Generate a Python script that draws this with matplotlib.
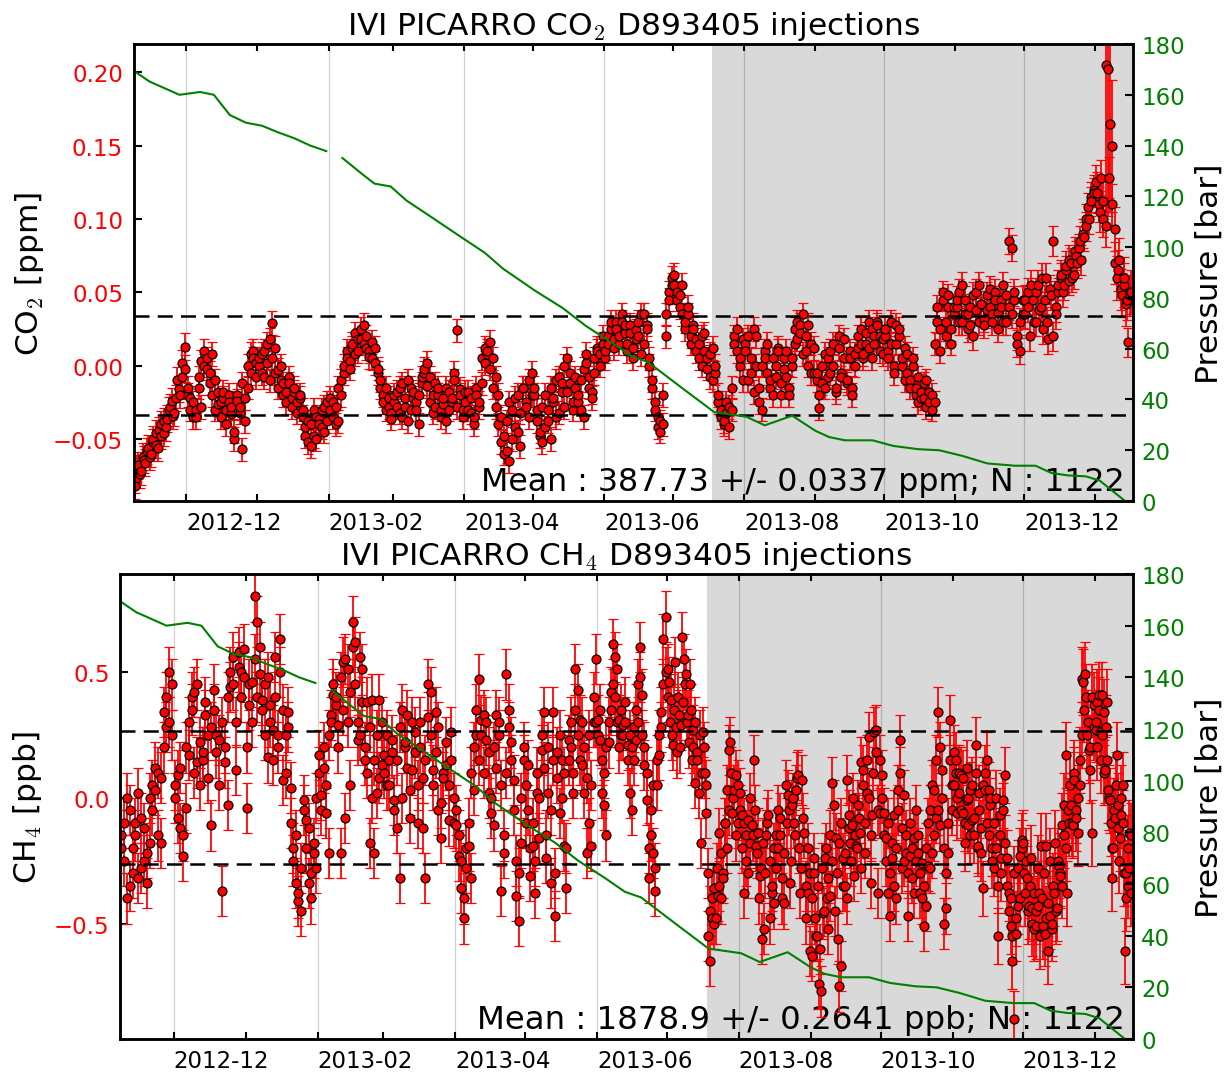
import numpy as np
import pandas as pd
import matplotlib
matplotlib.use('Agg')
import matplotlib.pyplot as plt
import matplotlib.dates as mdates
from matplotlib.ticker import MultipleLocator

plt.rcParams['font.family'] = ['DejaVu Sans']
plt.rcParams['mathtext.fontset'] = 'cm'

# month blocks: each row of values belongs to [edge_i, edge_i+1)
month_edges = ['2012-11-08', '2012-12-01', '2013-01-01', '2013-02-01', '2013-03-01',
               '2013-04-01', '2013-05-01', '2013-06-01', '2013-07-01', '2013-08-01',
               '2013-09-01', '2013-10-01', '2013-11-01', '2013-12-01', '2014-01-01',
               '2014-01-17']

# CO2 anomaly, ppm x 1000 (two interleaved injection sets per month)
co2_rows = [
    [-78, -70, -74, -62, -66, -56, -60, -50, -54, -44, -48, -38, -42, -30, -24, -32, -10, -20, 2, 13],
    [-20, -30, -25, -35, -15, -28, 0, 5, -5, 8, -10, -18, -25, -22, -30, -20, -28, -50, -24, -32, -57, -22, -15, -5, 5, -8],
    [5, -5, 10, 2, -10, 29, 12, -3, 0, -12, -18, -8, -22, -15, -25, -20, -30, -42, -38, -55, -48, -35, -40, -30, -45, -25],
    [-22, -35, -28, -38, -20, -5, 5, -2, 12, 8, 18, 25, 15, 20, 10, 5, 12, -2, -10, -20, -15, -28, -32],
    [-20, -28, -15, -35, -22, -10, -30, -18, -25, -40, -12, -5, 2, -8, -20, -28, -15, -30, -22, -38, -18, -25, -10, 24, -20, -30],
    [-25, -18, -32, -40, -20, -28, -12, 2, 10, 16, 5, -8, -20, -35, -48, -58, -65, -30, -22, -45, -55, -15, -28, -10, -20],
    [-15, -30, -45, -52, -20, -38, -50, -25, -10, -32, -18, 0, 5, -12, -25, -8, -20, -30, -2, 8, -15, -22, -5, 10, 0, 15],
    [5, 15, 25, 12, 30, 20, 35, 28, 10, 22, 5, 18, 30, 8, 35, 25, 0, -10, -25, -35, -45, -40, 20, 45, 60],
    [62, 50, 40, 55, 30, 35, 20, 28, 10, 15, 0, 22, 5, -8, 12, -5, -20, -30, -38, -25, -42, -30, 15, 25, 5, -10],
    [10, 20, -5, 25, 0, -15, -30, 5, 15, -10, -20, 0, 10, -12, 5, -8, -20, 0, 15, 30, 22, 35, 10, 28, -5, 12],
    [-10, -29, 0, -15, 5, -5, 15, -18, 20, -8, 5, -12, 10, -20, 0, 12, 25, 8, 15, 30, 5, 20, 28, 10, 18],
    [20, 5, 30, -5, 15, 25, 0, -10, 8, -15, 5, -20, -8, -22, -12, -28, -18, -30, -25, 30, 10, 50, 20, 40, 15, 35],
    [45, 30, 55, 35, 25, 40, 20, 50, 30, 42, 28, 38, 52, 35, 45, 25, 40, 55, 30, 85, 80, 45, 15, 10, 35],
    [35, 50, 20, 45, 30, 55, 40, 25, 60, 18, 48, 85, 35, 55, 60, 50, 65, 58, 70, 62, 75, 80, 72, 88, 95, 100, 112, 118],
    [125, 110, 128, 100, 205, 202, 165, 150, 93, 60, 72, 48, 55, 42, 16, 50],
]
co2_rows_b = [
    [-82, -68, -72, -64, -58, -62, -52, -46, -56, -40, -46, -36, -28, -34, -22, -16, -8, -2],
    [-15, -22, -35, -30, -8, 3, 10, -2, -12, -20, -30, -26, -35, -18, -40, -25, -33, -45, -20, -28, -12, -38, 0, 8, 10, 2],
    [0, 8, -8, 15, 18, 5, -5, -15, -10, -20, -25, -12, -28, -18, -32, -22, -35, -48, -52, -40, -30, -50, -36, -42, -28, -38],
    [-30, -25, -40, -15, -10, 0, 10, 3, 15, 22, 10, 18, 28, 12, 6, 16, 2, -5, -15, -25, -30, -22, -36],
    [-25, -18, -32, -12, -28, -38, -15, -22, -30, -20, -8, -2, -14, -25, -32, -12, -20, -35, -26, -15, -30, -22, -5, -28, -16, -35],
    [-18, -30, -22, -35, -15, -25, 5, 12, 8, -2, -15, -28, -40, -52, -60, -38, -25, -50, -42, -20, -32, -15, -25, -35, -5],
    [-20, -38, -48, -28, -42, -30, -15, -22, -35, -8, -12, -28, -18, -5, -30, -15, -25, -10, -35, 2, -8, -18, 5, 12, 8, 20],
    [10, 20, 30, 18, 25, 15, 30, 22, 15, 28, 12, 24, 20, 35, 15, 28, 5, -15, -30, -42, -38, -20, 35, 50, 55],
    [55, 45, 48, 35, 25, 40, 15, 25, 18, 5, 20, 10, -2, 8, -10, 0, -25, -35, -40, -32, -28, -15, 20, 10, 0, 18],
    [15, -10, 5, -18, 20, -25, 0, 10, -5, -15, 5, -8, 12, -20, -2, 10, -15, 5, 25, 18, 28, 8, 20, 0, 15, -5],
    [-5, -20, -12, 8, -8, 10, 0, -15, 12, -5, 18, -10, 5, -15, 8, 20, 15, 5, 22, 12, 25, 15, 30, 20, 8],
    [25, 10, 15, 0, 28, 20, 5, 12, -5, -10, 0, -15, -25, -18, -22, -10, -25, -20, 15, 40, 25, 45, 30, 48, 25, 40],
    [40, 50, 30, 45, 35, 28, 48, 38, 55, 42, 32, 48, 40, 30, 50, 36, 45, 30, 48, 40, 35, 50, 20, 30, 45],
    [45, 40, 55, 30, 50, 38, 60, 45, 30, 52, 20, 40, 50, 62, 55, 68, 72, 60, 78, 70, 85, 90, 100, 108, 115, 120],
    [118, 105, 112, 95, 128, 110, 70, 65, 52, 60, 45, 48],
]
co2_err_month = [9, 8, 8, 8, 8, 8, 8, 8, 8, 8, 8, 8, 9, 10, 14]
co2_err_jan14 = [12, 12, 12, 12, 100, 100, 60, 45, 15, 15, 15, 15, 15, 15, 10, 15]

# CH4 anomaly, ppb x 100
ch4_rows = [
    [-20, -10, -40, -5, -30, -15, -32, -8, -25, -34, -18, 5, 3, 10, -18, 34, 28, 50, 45],
    [0, 9, -12, -23, -4, 17, 40, 42, 14, 5, 18, 33, 25, -11, 43, 25, 23, -37, 14, -3, 44, 56, 11, 58, 50, 59],
    [-4, 37, 46, 80, 70, 49, 39, 45, 16, 37, 27, 56, 25, 63, 7, 25, 34, 4, -20, -34, -41, -45, -1, -9, -34, -40, -18, -28],
    [17, 1, 12, -6, -22, 33, 41, 37, 29, -22, 54, -8, 51, 5, 70, 62, 23, 56, 51, 15, 38, -18, 39, -22, 2, 39, 13],
    [17, 5, 15, 23, -1, -12, -32, 35, 20, 33, 3, 11, 26, -10, 30, 8, -32, 45, 42, 11, 34, -5, -16, 8, 13, -9, 26, 0],
    [-11, -23, -36, -48, -28, -19, -32, 3, 25, 47, 31, 33, 23, 2, -6, -11, 33, 30, -37, -22, 49, 35, 22, 7, -39, -49, -18, 15],
    [-10, 13, -31, -19, -38, 2, -16, 19, 34, -24, 2, -34, 34, -47, 18, -6, 15, -19, -36, 23, 30, 2, 51, 43, 31, 13, 2, -22, -10, -19, 30, 55],
    [31, 23, 2, -3, -15, 22, 42, 61, 56, 51, 31, 25, 29, 38, 21, 2, -5, 15, 23, 45, 60, 41, 13, -1, -32, -15, -22, -37, 5, 17, 34, 63, 72],
    [51, 46, 39, 21, 54, 18, 33, 29, 64, 55, 49, 33, 45, 15, 27, 6, 18, 2, -18, 26, 10, -6, -55, -65, -48, -36, -48, -39, -14, -40, -32, -10, 3, 19, 22, -6, 3, 9, -10],
    [2, -7, -38, -15, -9, -18, -11, 15, -19, -14, -31, -56, -52, -15, -7, -48, -35, -42, -15, -20, -8, -40, -42, 5, 1, -34, -3, -10, 3, 9, -38, 7, -14, -48, -38, -61],
    [-63, -24, -48, -55, -74, -77, -46, -24, -40, -52, -39, 6, -3, -16, -56, -75, -67, -24, -35, 7, -7, -18, -11, -31, -19, -3, -14, 14, 11, -22, 2, 24, -34, -7, 26, 27, -38, -6],
    [9, -6, -16, -38, -47, -24, -7, -40, 3, 23, -28, 1, -22, -47, -23, -32, -16, -5, -22, -38, -26, -51, -43, -27, -5, -22, 3, -8, 34, -11, 11, -50, -44, -22, 31, -5],
    [18, 10, -6, 2, 9, -6, -18, -1, -11, 3, -9, -15, 21, -19, 2, -22, -36, 3, 15, 3, -3, -20, -28, 0, -55, -7, -24, -1, 9, -24, -38, -51, -65, -88, -54, -43, -23, -17],
    [-18, -38, -32, -43, -24, -44, -52, -51, -43, -38, -19, -51, -54, -19, -61, -47, -52, -35, -18, -44, -27, -31, -11, -3, 17, -38, -10, -3, -11, 7, -8, -14, 5, 47, 46, 49, 25, 19, 11, -14, 37],
    [27, 38, 41, 26, 41, 34, 11, 38, 3, -1, -32, -20, -8, 17, -3, -16, -7, 5, -61, -30, -35, -14, -38],
]
ch4_rows_b = [
    [-15, -25, 0, -35, -20, -10, 2, -28, -12, -22, 0, -5, 12, -15, 8, 20, 40, 30, 25],
    [5, -8, 12, -15, 20, 30, 35, 10, 45, 22, 15, 38, 8, 28, 35, 18, 5, 30, 20, 40, 50, 45, 30, 52, 40, 48],
    [20, 45, 30, 55, 40, 60, 35, 25, 48, 30, 15, 40, 20, 50, 35, 10, 28, -10, -25, -15, -38, -28, -5, -20, -12, -30, -22, 0],
    [10, -5, 20, 5, 25, 30, 45, 40, 20, 48, 35, 55, 30, 42, 60, 45, 30, 25, 38, 20, 10, 28, 0, 15, 25, 8, 30],
    [10, 25, 5, 18, -5, 15, 28, 0, 22, 12, -8, 30, 18, 5, 20, -12, 15, 32, 25, 5, 18, 28, -2, 10, 22, 5, 15, -10],
    [-5, -15, -25, -40, -20, -10, 10, 20, 35, 15, 25, 10, 30, 18, 0, 20, 12, 25, 5, -15, 10, 28, 15, -5, -25, -30, 0, 20],
    [5, -5, -20, -10, -25, 10, 0, 25, 12, -15, 20, -5, 15, -30, 8, 25, 0, 10, -20, 15, 20, 10, 35, 25, 15, 30, 20, 8, 25, 5, 40, 30],
    [25, 35, 15, 10, 20, 30, 35, 45, 40, 30, 20, 35, 25, 30, 15, 25, 20, 28, 35, 30, 48, 25, 20, 10, -20, -5, 5, -28, 15, 25, 28, 45, 50],
    [40, 30, 25, 35, 28, 40, 20, 38, 45, 30, 22, 35, 20, 30, 15, 25, 10, 20, 5, -30, -45, -40, -50, -28, -35, -22, -30, -10, -20, -5, 10, 0, -15, 5],
    [-5, -20, -10, -25, -30, 0, -15, -5, -22, -40, -28, -18, -30, -10, -25, -38, -20, -28, -5, -15, -32, -22, -10, -5, -25, 0, -15, 8, -20, -28, -8, -35, -20, -30],
    [-40, -30, -55, -35, -60, -28, -45, -20, -32, -15, -25, -45, -30, -18, -10, -35, -22, -40, -12, -25, 0, -15, -20, -8, -28, 5, -10, 15, 0, -15, 10, 18, -5, 15],
    [0, -15, -25, -10, -30, -18, -35, -20, -5, 10, -12, -25, -15, -30, -10, -20, -38, -25, -15, -30, -40, -35, -20, -10, -28, 5, -15, 15, -5, 20, 0, -20, -30, -10, 15, 5],
    [5, 15, 0, 10, -5, 8, -10, 12, 0, -15, 5, -8, 10, -20, -5, -12, 5, 10, -10, -15, 0, -25, -10, -20, -35, -15, -30, -5, -18, -35, -45, -40, -55, -30, -48, -28, -40, -20],
    [-30, -25, -45, -35, -50, -38, -45, -28, -55, -40, -30, -48, -42, -25, -50, -38, -45, -25, -30, -35, -15, -20, -5, 5, -10, 10, -5, 0, 15, 25, 35, 40, 30, 20, 40, 28],
    [30, 20, 35, 15, 25, 10, 28, 15, 0, -10, -20, -5, 5, -12, -25, 0, -10, -30, -40, -20, -28, -15],
]
ch4_err_month = [10, 10, 10, 10, 10, 10, 10, 10, 10, 10, 10, 10, 11, 13, 13]

# tank pressure readings (bar); nan = no reading
p_dates = ['2012-11-08', '2012-11-15', '2012-11-28', '2012-12-07', '2012-12-13', '2012-12-20',
           '2012-12-27', '2013-01-03', '2013-01-10', '2013-01-17', '2013-01-24', '2013-01-31',
           '2013-02-04', '2013-02-07', '2013-02-16', '2013-02-21', '2013-02-28', '2013-03-07',
           '2013-03-18', '2013-03-29', '2013-04-10', '2013-04-18', '2013-05-02', '2013-05-14',
           '2013-05-24', '2013-06-05', '2013-06-13', '2013-06-20', '2013-07-05', '2013-07-19',
           '2013-08-02', '2013-08-10', '2013-08-22', '2013-09-01', '2013-09-07', '2013-09-14',
           '2013-09-26', '2013-10-05', '2013-10-16', '2013-10-25', '2013-11-04', '2013-11-15',
           '2013-11-27', '2013-12-06', '2013-12-13', '2013-12-20', '2013-12-28', '2014-01-03',
           '2014-01-14']
p_bar = [169.5, 165.2, 160.0, 161.1, 160.0, 152.0, 149.0, 147.8, 145.2, 142.9, 140.0, 137.8,
         np.nan, 135.1, 128.5, 125.0, 123.9, 118.3, 111.7, 105.0, 97.8, 91.5, 82.8, 76.0,
         69.0, 62.0, 57.0, 54.8, 44.5, 35.0, 33.2, 29.8, 33.6, 27.7, 25.2, 23.9,
         23.9, 21.7, 20.4, 20.0, 17.8, 14.8, 13.9, 13.9, 11.0, 10.1, 9.7, 8.0, 0.0]

shade_start = '2013-07-18 06:00'
x_start, x_end = '2012-11-08', '2014-01-17 08:00'


def spread(rows, edges):
    # place each month's samples evenly inside that month
    t = []
    for i, r in enumerate(rows):
        a = mdates.date2num(pd.Timestamp(edges[i]))
        b = mdates.date2num(pd.Timestamp(edges[i + 1]))
        t.append(a + (np.arange(len(r)) + 0.5) / len(r) * (b - a))
    return np.concatenate(t)


def flat(rows):
    return np.concatenate([np.array(r, dtype=float) for r in rows])


def errs(rows, per_month):
    return np.concatenate([np.full(len(r), e, dtype=float) for r, e in zip(rows, per_month)])


co2_t = np.concatenate([spread(co2_rows, month_edges), spread(co2_rows_b, month_edges)])
co2 = np.concatenate([flat(co2_rows), flat(co2_rows_b)]) / 1000.
co2_err = np.concatenate([errs(co2_rows[:-1], co2_err_month), np.array(co2_err_jan14, dtype=float),
                          errs(co2_rows_b, co2_err_month)]) / 1000.

ch4_t = np.concatenate([spread(ch4_rows, month_edges), spread(ch4_rows_b, month_edges)])
ch4 = np.concatenate([flat(ch4_rows), flat(ch4_rows_b)]) / 100.
ch4_err = np.concatenate([errs(ch4_rows, ch4_err_month), errs(ch4_rows_b, ch4_err_month)]) / 100.

p_t = mdates.date2num(pd.to_datetime(p_dates))


def panel(rect, t, y, e, std, title, ylab, meantxt, txtsize, ylim, lab_x, rlab_x):
    ax = fig.add_axes(rect)
    ax.axvspan(mdates.date2num(pd.Timestamp(shade_start)), mdates.date2num(pd.Timestamp('2014-03-01')),
               facecolor='#d9d9d9', edgecolor='none', zorder=0)
    order = np.argsort(t)
    ax.errorbar(t[order], y[order], yerr=e[order], fmt='o', ms=4.3, mfc='r', mec='k', mew=0.6,
                ecolor='r', elinewidth=0.85, capsize=2.5, capthick=0.85, zorder=2)
    for s in (std, -std):
        ax.axhline(s, color='k', lw=1.2, ls='--', dashes=(6, 3.3), zorder=4)
    ax.text(0.992, 0.008, meantxt, transform=ax.transAxes, ha='right', va='bottom',
            fontsize=txtsize, zorder=1)
    ax.xaxis_date()
    ax.set_xlim(mdates.date2num(pd.Timestamp(x_start)), mdates.date2num(pd.Timestamp(x_end)))
    ax.set_ylim(*ylim)
    ax.xaxis.set_major_locator(mdates.MonthLocator(bymonth=(2, 4, 6, 8, 10, 12)))
    ax.xaxis.set_minor_locator(mdates.MonthLocator())
    ax.xaxis.set_major_formatter(mdates.DateFormatter('%Y-%m'))
    ax.tick_params(axis='x', which='both', direction='in', top=True, length=3.5, width=1,
                   labelsize=11, pad=5)
    ax.tick_params(axis='y', direction='in', right=False, length=4, width=1,
                   labelsize=11, labelcolor='r', pad=5)
    ax.grid(True, which='major', axis='x', color='k', alpha=0.18, lw=0.6, ls='-')
    for lab in ax.get_xticklabels():
        lab.set_horizontalalignment('left')
    ax.set_title(title, fontsize=15, pad=5)
    ax.set_ylabel(ylab, fontsize=15)
    ax.yaxis.set_label_coords(lab_x, 0.5)

    ax2 = ax.twinx()
    ax2.plot(p_t, p_bar, color='g', lw=1.0)
    ax2.set_ylim(0, 180)
    ax2.yaxis.set_major_locator(MultipleLocator(20))
    ax2.tick_params(axis='y', direction='in', length=4, width=1, labelsize=11,
                    labelcolor='g', pad=4)
    ax2.set_ylabel('Pressure [bar]', fontsize=15)
    ax2.yaxis.set_label_coords(rlab_x, 0.5)
    for a in (ax, ax2):
        for sp in a.spines.values():
            sp.set_linewidth(1.2)
    return ax


fig = plt.figure(figsize=(8.2, 7.1533), dpi=150)

ax1 = panel([0.10854, 0.53215, 0.81236, 0.42591], co2_t, co2, co2_err, 0.0337,
            'IVI PICARRO CO$_2$ D893405 injections', 'CO$_2$ [ppm]',
            'Mean : 387.73 +/- 0.0337 ppm; N : 1122', 15.2, (-0.0922, 0.2192), -0.088, 1.062)
ax1.yaxis.set_major_locator(MultipleLocator(0.05))

ax3 = panel([0.09756, 0.03075, 0.82333, 0.43336], ch4_t, ch4, ch4_err, 0.2641,
            'IVI PICARRO CH$_4$ D893405 injections', 'CH$_4$ [ppb]',
            'Mean : 1878.9 +/- 0.2641 ppb; N : 1122', 15.55, (-0.959, 0.889), -0.075, 1.061)
ax3.yaxis.set_major_locator(MultipleLocator(0.5))

fig.savefig('out.png', dpi=150)
